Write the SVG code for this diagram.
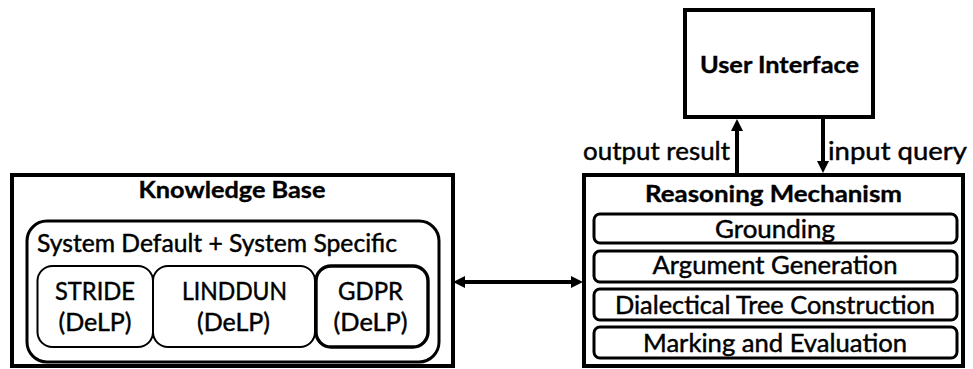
<svg xmlns="http://www.w3.org/2000/svg" width="973" height="369" viewBox="0 0 973 369">
  <style>
    .box { fill: #ffffff; stroke: #000000; }
    .txt { font-family: Lato, "Liberation Sans", sans-serif; font-size: 25px; fill: #000000; stroke: #000000; stroke-width: 0.45; text-anchor: middle; }
    .bold { font-weight: bold; font-size: 23px; stroke-width: 0.35; }
    .conn { stroke: #000000; stroke-width: 4; fill: none; }
  </style>
  <defs>
    <marker id="arrow" viewBox="0 0 12 12" refX="2" refY="6" markerWidth="12" markerHeight="12" markerUnits="userSpaceOnUse" orient="auto-start-reverse">
      <path d="M0,0 L12,6 L0,12 z" fill="#000000"/>
    </marker>
  </defs>

  <rect width="973" height="369" fill="#ffffff"/>

  <!-- Knowledge base with its nested rule sets -->
  <g id="knowledge-base">
    <rect class="box" x="12" y="175" width="441" height="191" stroke-width="4"/>
    <text class="txt bold" x="232" y="198" textLength="187" lengthAdjust="spacingAndGlyphs">Knowledge Base</text>
    <g id="system-rules">
      <rect class="box" x="27" y="221" width="412" height="141" rx="20" stroke-width="3"/>
      <text class="txt" x="217" y="252" font-size="24" textLength="360" lengthAdjust="spacingAndGlyphs">System Default + System Specific</text>
    </g>
    <g id="stride">
      <rect class="box" x="37.5" y="266" width="115.5" height="81" rx="15" stroke-width="2"/>
      <text class="txt" x="95" y="300" textLength="80" lengthAdjust="spacingAndGlyphs">STRIDE</text>
      <text class="txt" x="95" y="331" textLength="73" lengthAdjust="spacingAndGlyphs">(DeLP)</text>
    </g>
    <g id="linddun">
      <rect class="box" x="153" y="266" width="162" height="81" rx="15" stroke-width="2"/>
      <text class="txt" x="234.5" y="300" textLength="105" lengthAdjust="spacingAndGlyphs">LINDDUN</text>
      <text class="txt" x="233.5" y="331" textLength="73" lengthAdjust="spacingAndGlyphs">(DeLP)</text>
    </g>
    <g id="gdpr">
      <rect class="box" x="316" y="266" width="112" height="81" rx="15" stroke-width="3.4"/>
      <text class="txt" x="370.5" y="300" textLength="65" lengthAdjust="spacingAndGlyphs">GDPR</text>
      <text class="txt" x="370.5" y="331" textLength="74" lengthAdjust="spacingAndGlyphs">(DeLP)</text>
    </g>
  </g>

  <!-- User interface -->
  <g id="user-interface">
    <rect class="box" x="685" y="10" width="188" height="107" stroke-width="4"/>
    <text class="txt bold" x="779.5" y="73" textLength="159" lengthAdjust="spacingAndGlyphs">User Interface</text>
  </g>

  <!-- Reasoning mechanism and its stages -->
  <g id="reasoning-mechanism">
    <rect class="box" x="584" y="175" width="379" height="191" stroke-width="4"/>
    <text class="txt bold" x="773.5" y="202" textLength="257" lengthAdjust="spacingAndGlyphs">Reasoning Mechanism</text>
    <g id="grounding">
      <rect class="box" x="594" y="214" width="363" height="29" rx="6" stroke-width="3"/>
      <text class="txt" x="775" y="238" textLength="120" lengthAdjust="spacingAndGlyphs">Grounding</text>
    </g>
    <g id="argument-generation">
      <rect class="box" x="594" y="251" width="363" height="31" rx="6" stroke-width="3"/>
      <text class="txt" x="775" y="274" textLength="245" lengthAdjust="spacingAndGlyphs">Argument Generation</text>
    </g>
    <g id="dialectical-tree">
      <rect class="box" x="594" y="289" width="363" height="31" rx="6" stroke-width="3"/>
      <text class="txt" x="775" y="314" textLength="320" lengthAdjust="spacingAndGlyphs">Dialectical Tree Construction</text>
    </g>
    <g id="marking-evaluation">
      <rect class="box" x="594" y="327" width="363" height="31" rx="6" stroke-width="3"/>
      <text class="txt" x="775" y="352" textLength="264" lengthAdjust="spacingAndGlyphs">Marking and Evaluation</text>
    </g>
  </g>

  <!-- Connectors -->
  <g id="connectors">
    <line class="conn" x1="463" y1="282" x2="573" y2="282" marker-start="url(#arrow)" marker-end="url(#arrow)"/>
    <line class="conn" x1="737" y1="175" x2="737" y2="129" marker-end="url(#arrow)"/>
    <line class="conn" x1="823" y1="119" x2="823" y2="163" marker-end="url(#arrow)"/>
    <text class="txt" x="656.5" y="160" textLength="147" lengthAdjust="spacingAndGlyphs">output result</text>
    <text class="txt" x="897.5" y="160" textLength="139" lengthAdjust="spacingAndGlyphs">input query</text>
  </g>
</svg>
